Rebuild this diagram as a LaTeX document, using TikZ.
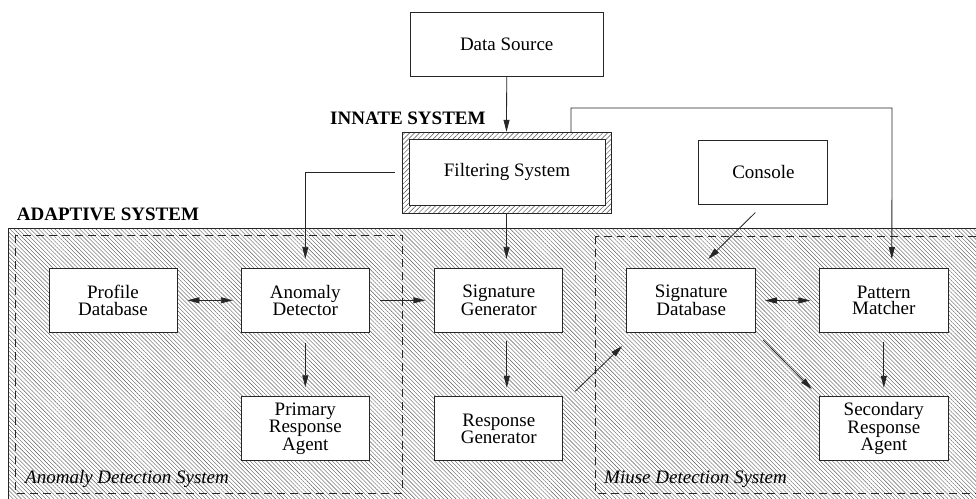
\documentclass[tikz,border=0pt]{standalone}
\usepackage{fontspec}
\IfFontExistsTF{LiberationSerif-Regular.ttf}{\setmainfont{LiberationSerif-Regular.ttf}[BoldFont=LiberationSerif-Bold.ttf,ItalicFont=LiberationSerif-Italic.ttf,BoldItalicFont=LiberationSerif-BoldItalic.ttf]}{\setmainfont{Liberation Serif}}
\usetikzlibrary{patterns.meta,arrows.meta,calc}
\begin{document}
\begin{tikzpicture}[x=1pt,y=-1pt,
  box/.style={draw=black!85,line width=0.9pt,fill=white,minimum width=128pt,minimum height=64pt,inner sep=0pt,align=center,font=\rmfamily\fontsize{19}{16.5}\selectfont},
  conn/.style={line width=0.8pt,draw=black!85},
  arr/.style={conn,-{Triangle[length=12pt,width=6pt]}},
  darr/.style={conn,{Triangle[length=12pt,width=6pt]}-{Triangle[length=12pt,width=6pt]}},
  lbl/.style={anchor=base west,inner sep=0pt,font=\rmfamily\fontsize{19}{22}\selectfont\bfseries},
  ilbl/.style={anchor=base west,inner sep=0pt,font=\rmfamily\fontsize{19}{22}\selectfont\itshape},
  dbox/.style={draw=black!85,line width=0.8pt,dash pattern=on 8pt off 5pt}]

\useasboundingbox (0,0) rectangle (976,498);
\clip (0,0) rectangle (976,498);
\fill[white] (0,0) rectangle (976,498);

% adaptive system area
\draw[line width=0.9pt,draw=black!85,pattern={Lines[angle=-45,distance=2.9pt,line width=0.4pt]},pattern color=black!65] (8.3,228.3) rectangle (990,510);
\draw[dbox] (15,235) rectangle (402,493);
\draw[dbox] (595,236) rectangle (990,493);

% top nodes
\node[box,minimum width=193pt] (ds) at (506.7,44) {Data Source};
\node[draw=black!85,line width=0.9pt,minimum width=209pt,minimum height=81pt,inner sep=0pt,
      pattern={Lines[angle=45,distance=3.5pt,line width=0.45pt]},pattern color=black!70] (fo) at (506.5,172.5) {};
\node[box,minimum width=196pt,minimum height=66pt] (fs) at (507,172) {Filtering System};
\node[box,minimum width=129pt] (con) at (763.4,172) {Console};

% inner boxes
\node[box] (pdb) at (113,300.3) {Profile\\Database};
\node[box] (ad) at (305.3,300.3) {Anomaly\\Detector};
\node[box] (sg) at (498.8,300.3) {Signature\\Generator};
\node[box,minimum width=129pt] (sdb) at (691.2,300.5) {Signature\\Database};
\node[box,minimum width=129pt] (pm) at (883.8,300.5) {Pattern\\Matcher};
\node[box] (pra) at (305.3,428.7) {Primary\\Response\\Agent};
\node[box] (rg) at (498.8,428.7) {Response\\Generator};
\node[box,minimum width=129pt] (sra) at (883.8,428.7) {Secondary\\Response\\Agent};

% labels
\node[lbl] (inn) at (330,124) {INNATE SYSTEM};
\node[lbl] (ada) at (16.7,220.7) {ADAPTIVE SYSTEM};
\node[ilbl] (ads) at (25,483.3) {Anomaly Detection System};
\node[ilbl] (mds) at (604,483) {Miuse Detection System};

% connectors
\coordinate (t1) at (892,108);
\draw[arr] (ds.south) -- (fo.north);
\draw[arr,shorten >=9pt] ([xshift=-7pt]fo.west) -| (ad.north);
\draw[arr,shorten >=9pt] (fo.south) -- (fo.south |- sg.north);
\draw[arr,shorten >=9pt] ([xshift=64.5pt]fo.north) |- (t1) -- ([xshift=8pt]pm.north);
\draw[darr,shorten <=10pt,shorten >=8pt] (pdb) -- (ad);
\draw[arr,shorten <=10pt,shorten >=9pt] (ad) -- (sg);
\draw[arr,shorten <=10pt,shorten >=9pt] (ad) -- (pra);
\draw[arr,shorten <=8.5pt,shorten >=8.5pt] ([xshift=8pt]sg.south) -- ([xshift=8pt]rg.north);
\draw[arr] ($(rg.north east)+(12,-5)$) -- ($(sdb.south west)+(-4,13)$);
\draw[arr] ($(con.south)+(-8,8)$) -- ($(sdb.north)+(17,-9)$);
\draw[darr,shorten <=8.6pt,shorten >=8.6pt] (sdb) -- (pm);
\draw[arr,shorten <=10pt,shorten >=10pt] (sdb.south east) -- (sra.north west);
\draw[arr,shorten <=9pt,shorten >=8.5pt] (pm) -- (sra);
\end{tikzpicture}
\end{document}
